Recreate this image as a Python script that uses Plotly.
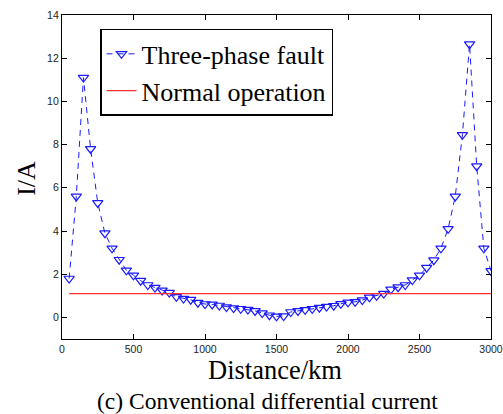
import plotly.graph_objects as go

# Sampling positions along the line (km)
distance_km = list(range(50, 3001, 50))

# Differential current under a three-phase fault at each position (A)
fault_current = [
    1.8, 5.6, 11.1, 7.8, 5.3, 3.9, 3.2, 2.67, 2.18, 1.95,
    1.7, 1.5, 1.38, 1.25, 1.15, 0.95, 0.87, 0.82, 0.68, 0.62,
    0.6, 0.55, 0.48, 0.43, 0.4, 0.36, 0.3, 0.2, 0.1, 0.05,
    0.06, 0.25, 0.3, 0.35, 0.4, 0.45, 0.5, 0.54, 0.63, 0.7,
    0.72, 0.8, 0.93, 1.0, 1.1, 1.3, 1.4, 1.5, 1.73, 1.95,
    2.3, 2.65, 3.2, 4.1, 5.6, 8.45, 12.65, 7.0, 3.2, 2.15,
]

# Differential current during normal operation (A)
normal_level = 1.1
normal_x = [50, 3000]
normal_y = [normal_level, normal_level]

serif = "Liberation Serif"
sans = "Liberation Sans"

fig = go.Figure()
fig.add_trace(go.Scatter(
    x=distance_km, y=fault_current,
    mode="lines+markers",
    name="Three-phase fault",
    line=dict(color="#1a1aff", width=1, dash="6px,5px"),
    marker=dict(symbol="triangle-down-open", size=9,
                color="#1a1aff", line=dict(width=1.2, color="#1a1aff")),
))
fig.add_trace(go.Scatter(
    x=normal_x, y=normal_y,
    mode="lines",
    name="Normal operation",
    line=dict(color="#ff3030", width=1.2),
))

axis_common = dict(
    showgrid=False, zeroline=False, automargin=False,
    showline=True, linecolor="black", linewidth=1.2,
    mirror="ticks", ticks="inside", ticklen=5, tickwidth=1, tickcolor="black",
    tickfont=dict(family=sans, size=10.5, color="#222"),
    ticklabeloverflow="allow",
)

fig.update_layout(
    width=503, height=414,
    margin=dict(l=62, r=12, t=15, b=75),
    paper_bgcolor="white", plot_bgcolor="white",
    xaxis=dict(range=[0, 3000], dtick=500, tick0=0, **axis_common),
    yaxis=dict(range=[-1, 14], dtick=2, tick0=0, **axis_common),
    legend=dict(
        x=0.0886, y=0.957, xanchor="left", yanchor="top",
        bgcolor="white", bordercolor="black", borderwidth=1.5,
        font=dict(family=serif, size=26, color="black"),
        tracegroupgap=0, itemwidth=30,
    ),
    showlegend=True,
    annotations=[
        dict(text="Distance/km", xref="paper", yref="paper",
             x=0.497, y=-0.096, xanchor="center", yanchor="middle",
             showarrow=False, font=dict(family=serif, size=26.5, color="black")),
        dict(text="I/A", xref="paper", yref="paper", textangle=-90,
             x=-0.082, y=0.497, xanchor="center", yanchor="middle",
             showarrow=False, font=dict(family=serif, size=26, color="black")),
        dict(text="(c) Conventional differential current",
             xref="paper", yref="paper", x=0.48, y=-0.19,
             xanchor="center", yanchor="middle", showarrow=False,
             font=dict(family=serif, size=23.5, color="black")),
    ],
)

fig.write_html("out.html")
